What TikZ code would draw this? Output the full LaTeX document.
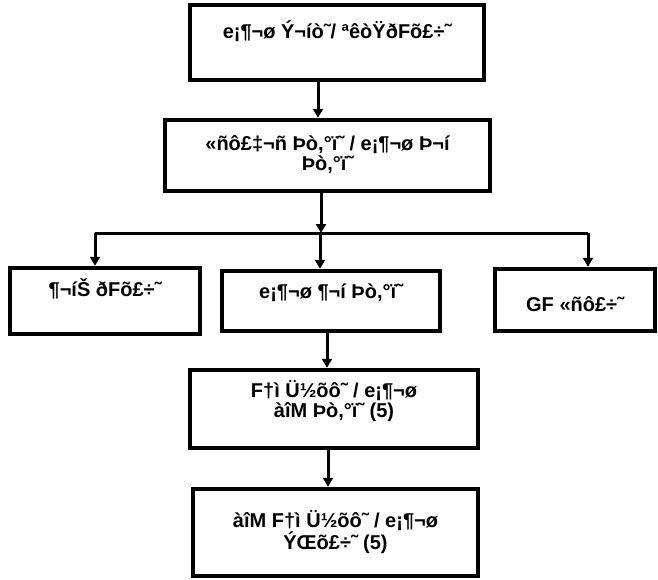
\documentclass[tikz,border=0pt]{standalone}
\usepackage{fontspec}
\setmainfont{Liberation Sans}
\usetikzlibrary{arrows.meta}
\tikzset{
  box/.style={draw, line width=4.5pt, inner xsep=0pt, inner ysep=0pt, align=center,
    font=\bfseries\fontsize{20}{20}\selectfont},
  link/.style={line width=3pt, -{Triangle[width=10pt,length=9pt]}},
}
\begin{document}
\begin{tikzpicture}[x=1pt, y=-1pt]
  \useasboundingbox (0,0) rectangle (658,579);

  % Boxes
  \node[box, minimum width=294pt, text height=33pt, text depth=42pt] (head) at (337,42.5)
    {e¡¶¬ø Ý¬íò˜/ ªêòŸðFõ£÷˜};
  \node[box, minimum width=325pt, text height=50pt, text depth=21pt] (lead) at (327.5,155.5)
    {«ñô£‡¬ñ Þò,°ï˜ / e¡¶¬ø Þ¬í\\ Þò,°ï˜};
  \node[box, minimum width=190pt, text height=28pt, text depth=38pt] (staff) at (105,301)
    {¶¬íŠ ðFõ£÷˜};
  \node[box, minimum width=218pt, text height=27pt, text depth=33pt] (desk) at (331,301)
    {e¡¶¬ø ¶¬í Þò,°ï˜};
  \node[box, minimum width=160pt, text height=42pt, text depth=20pt] (guest) at (575,300)
    {GF «ñô£÷˜};
  \node[box, minimum width=288pt, text height=47pt, text depth=31pt] (clerk) at (334,409)
    {F†ì Ü½õô˜ / e¡¶¬ø\\ àîM Þò,°ï˜ (5)};
  \node[box, minimum width=285pt, text height=60pt, text depth=27pt] (asst) at (335.5,532.5)
    {àîM F†ì Ü½õô˜ / e¡¶¬ø\\ ÝŒõ£÷˜ (5)};

  % Arrows down the chart
  \coordinate (split) at (321,233);
  \draw[link] ([xshift=-19pt]head.south) -- ([xshift=-19pt]head.south |- lead.north);
  \draw[link] ([xshift=-6.5pt]lead.south) -- (split);

  % Branch to the three boxes
  \draw[line width=3pt] ([xshift=-10pt]staff.north |- split) -- ([xshift=13pt]guest.north |- split);
  \draw[link] ([xshift=-10pt]staff.north |- split) -- ([xshift=-10pt]staff.north);
  \draw[link] ([xshift=-11pt]desk.north |- split) -- ([xshift=-11pt]desk.north);
  \draw[link] ([xshift=13pt]guest.north |- split) -- ([xshift=13pt]guest.north);

  \draw[link] ([xshift=-4pt]desk.south) -- ([xshift=-4pt]desk.south |- clerk.north);
  \draw[link] ([xshift=-6pt]clerk.south) -- ([xshift=-6pt]clerk.south |- asst.north);
\end{tikzpicture}
\end{document}
